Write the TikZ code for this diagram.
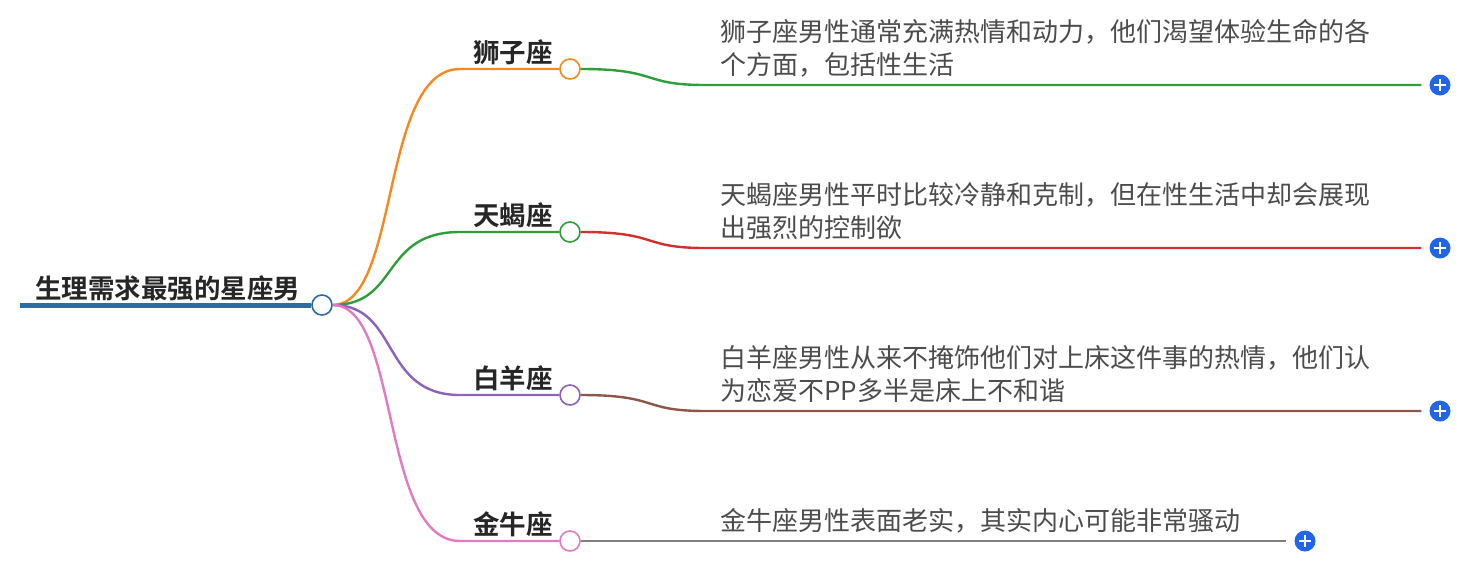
\documentclass[tikz,border=0pt]{standalone}
\usepackage{fontspec}
\newfontfamily\cjk{Noto Sans CJK SC}
\newfontfamily\cjkb{Noto Sans CJK SC Bold}
\usetikzlibrary{positioning}
\definecolor{rootblue}{HTML}{2B6CA3}
\definecolor{lorange}{HTML}{F5891F}
\definecolor{lgreen}{HTML}{2E9E3A}
\definecolor{lred}{HTML}{D2302F}
\definecolor{lpurple}{HTML}{9061B8}
\definecolor{lbrown}{HTML}{8C5648}
\definecolor{lpink}{HTML}{E17AC4}
\definecolor{lgray}{HTML}{7F7F7F}
\definecolor{plusblue}{HTML}{2266E8}
\tikzset{
    x=1pt, y=-1pt,
    knobsty/.style={circle,draw,fill=white,line width=1.6pt,minimum size=20pt,inner sep=0pt},
    topicsty/.style={font=\cjkb\fontsize{26.5}{26}\selectfont,text=black!85,inner sep=0pt},
    notesty/.style={font=\cjk\fontsize{26}{33}\selectfont,text=black!70,align=left,inner sep=0pt,anchor=south west},
    plussty/.style={circle,fill=plusblue,minimum size=21pt,inner sep=0pt},
    brsty/.style={line width=2.4pt},
}
\begin{document}
\begin{tikzpicture}
  \useasboundingbox (0,0) rectangle (1478,574);
  % root
  \coordinate (rs) at (20,305);
  \node[knobsty,draw=rootblue] (root) at (322,305) {};
  \draw[rootblue,line width=5pt] (rs) -- (root.west);
  \node[topicsty,anchor=south west,font=\cjkb\fontsize{26.5}{26}\selectfont] (roottxt) at (35,301) {生理需求最强的星座男};
  % branches
  \foreach \name/\txt/\y/\ny/\lcol/\rcol/\note/\px in {
      a/狮子座/69/85/lorange/lgreen/{狮子座男性通常充满热情和动力，他们渴望体验生命的各\\个方面，包括性生活}/1440,
      b/天蝎座/232/248/lgreen/lred/{天蝎座男性平时比较冷静和克制，但在性生活中却会展现\\出强烈的控制欲}/1440,
      c/白羊座/395/411/lpurple/lbrown/{白羊座男性从来不掩饰他们对上床这件事的热情，他们认\\为恋爱不PP多半是床上不和谐}/1440,
      d/金牛座/541/541/lpink/lgray/{金牛座男性表面老实，其实内心可能非常骚动}/1305} {
    \node[knobsty,draw=\lcol] (\name) at (570,\y) {};
    \node[topicsty,anchor=south east] (\name t) at (553,\y-4) {\txt};
    \draw[\lcol,brsty] (root.east) .. controls (400,305) and (380,\y) .. (460,\y) -- (\name.west);
    \node[plussty] (\name p) at (\px,\ny) {};
    \draw[white,line width=2.6pt] (\name p.center) ++(-6,0) -- ++(12,0) (\name p.center) ++(0,-6) -- ++(0,12);
    \draw[\rcol,brsty] (\name.east) .. controls (660,\y) and (640,\ny) .. (705,\ny) -- ([xshift=-8pt]\name p.west);
    \node[notesty] (\name n) at (720,\ny-8) {\note};
  }
\end{tikzpicture}
\end{document}
